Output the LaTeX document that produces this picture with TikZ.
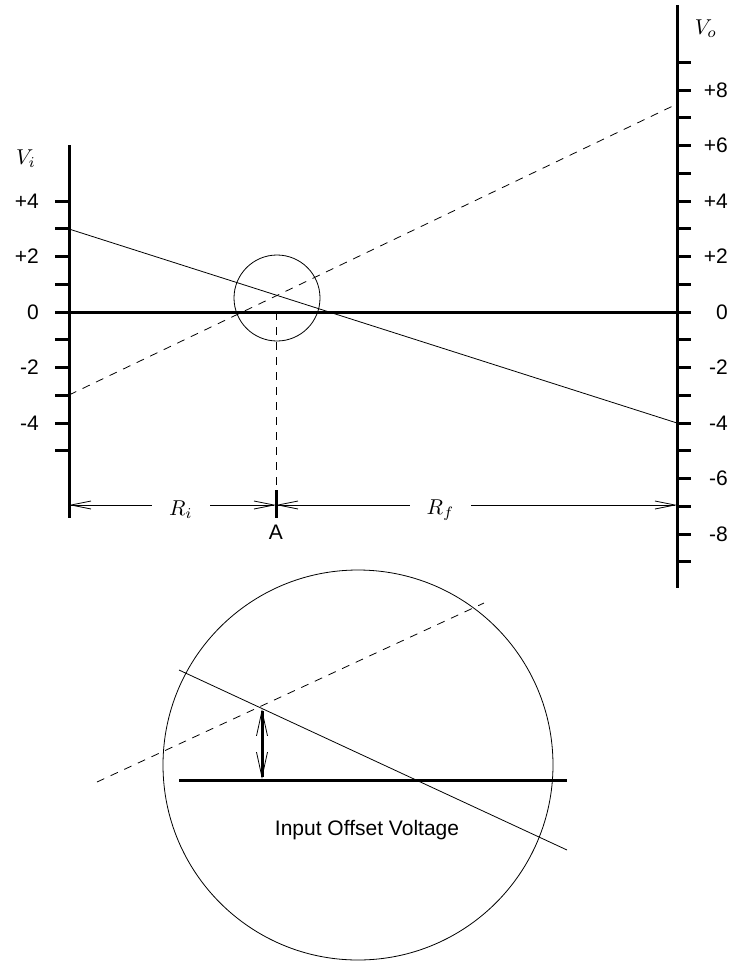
\documentclass[tikz,border=0pt]{standalone}
\usepackage{fontspec}
\setmainfont{Liberation Sans}
\usetikzlibrary{arrows.meta, positioning, calc}

\newcommand{\axlabel}[1]{\scalebox{2.15}{\normalsize$#1$}}

\begin{document}
\begin{tikzpicture}[
    x=1pt, y=-1pt,
    font=\fontsize{21}{25}\selectfont,
    axis/.style={line width=3pt},
    thinln/.style={line width=0.8pt},
    dashln/.style={line width=0.8pt, dash pattern=on 8pt off 7pt},
    dimarr/.style={{Straight Barb[length=20pt,width=8pt]}-{Straight Barb[length=20pt,width=8pt]}, line width=0.8pt},
    offarr/.style={{Straight Barb[length=25pt,width=11pt,line width=0.8pt]}-{Straight Barb[length=25pt,width=11pt,line width=0.8pt]}, line width=3pt},
    lbl/.style={fill=white, inner xsep=17pt, inner ysep=1pt, yshift=-5pt}
]
\useasboundingbox (0,0) rectangle (741,978);
% axes: 27.75 units per volt, zero at y=312
\coordinate (Lt) at (69,145);  \coordinate (Lb) at (69,518);
\coordinate (Rt) at (677,5);   \coordinate (Rb) at (677,588);
\coordinate (Z0) at (55,312);  \coordinate (Z1) at (691,312);
\draw[axis] (Lt) -- (Lb);
\draw[axis] (Rt) -- (Rb);
\draw[axis] (Z0) -- (Z1);
\foreach \k in {4,3,2,1,-1,-2,-3,-4,-5}
  \draw[axis] (55,{312-27.75*\k}) -- (69,{312-27.75*\k});
\foreach \k in {9,8,...,-9}
  \draw[axis] (677,{312-27.75*\k}) -- (691,{312-27.75*\k});
\foreach \k/\t [count=\i] in {4/+4,2/+2,0/0,-2/-2,-4/-4}
  \node[anchor=east, inner sep=0pt] (vi\i) at (39,{312-27.75*\k}) {\t};
\foreach \k/\t [count=\i] in {8/+8,6/+6,4/+4,2/+2,0/0,-2/-2,-4/-4,-6/-6,-8/-8}
  \node[anchor=east, inner sep=0pt] (vo\i) at (728,{312-27.75*\k}) {\t};
\node (Vi) at (26,159) {\axlabel{V_i}};
\node (Vo) at (706,29) {\axlabel{V_o}};
% input and output lines
\coordinate (in1) at (69,229);  \coordinate (in2) at (677,423);
\coordinate (out1) at (69,395); \coordinate (out2) at (677,104);
\draw[thinln] (in1) -- (in2);
\draw[dashln] (out1) -- (out2);
\draw[thinln] (277,298) circle[radius=43pt];
% point A and resistor ratio
\coordinate (Az) at (276,312);
\coordinate (At) at (276,490);
\coordinate (Ab) at (276,518);
\coordinate (Da) at (276,505);
\coordinate (Dl) at (69,505);
\coordinate (Dr) at (677,505);
\draw[dashln] (Az) -- (At);
\draw[axis] (At) -- (Ab);
\node (A) at (276,532) {A};
\draw[dimarr] (Dl) -- node[lbl, pos=0.54] (Ri) {\axlabel{R_i}} (Da);
\draw[dimarr] (Da) -- node[lbl, pos=0.41] (Rf) {\axlabel{R_f}} (Dr);
% magnified view
\draw[thinln] (358,765) circle[radius=195pt];
\coordinate (m0) at (179,780); \coordinate (m1) at (567,780);
\coordinate (mi0) at (179,670); \coordinate (mi1) at (567,850);
\coordinate (mo0) at (97,782);  \coordinate (mo1) at (484,603);
\draw[axis] (m0) -- (m1);
\draw[thinln] (mi0) -- (mi1);
\draw[dashln] (mo0) -- (mo1);
\coordinate (Ob) at (262,779);
\coordinate (Ot) at (262,709);
\draw[offarr] (Ob) -- (Ot);
\node (off) at (367,830) {Input Offset Voltage};
\end{tikzpicture}
\end{document}
